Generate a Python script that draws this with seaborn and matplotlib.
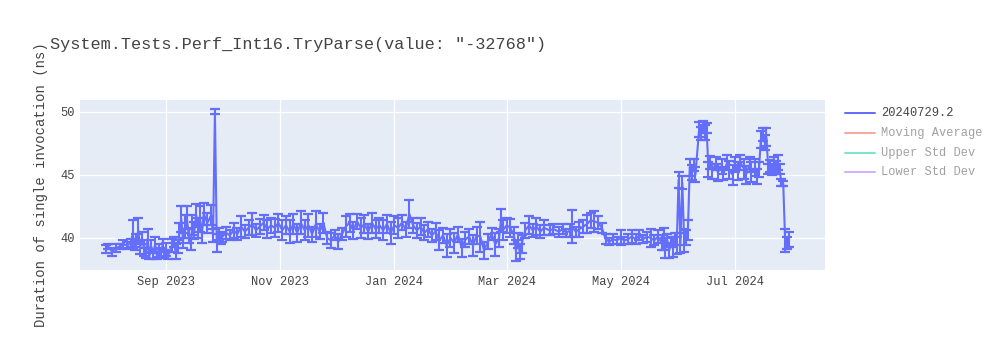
import matplotlib
matplotlib.use("Agg")
import matplotlib.pyplot as plt
import matplotlib.dates as mdates
from matplotlib.lines import Line2D
import seaborn as sns
import pandas as pd

title = 'System.Tests.Perf_Int16.TryParse(value: "-32768")'
y_label = "Duration of single invocation (ns)"
legend_labels = ["20240729.2", "Moving Average", "Upper Std Dev", "Lower Std Dev"]
y_ticks = [40, 45, 50]

dates = [
    "2023-07-31", "2023-08-01", "2023-08-03", "2023-08-05", "2023-08-07", "2023-08-09", "2023-08-11", "2023-08-13",
    "2023-08-14", "2023-08-15", "2023-08-16", "2023-08-17", "2023-08-18", "2023-08-19",
    "2023-08-20", "2023-08-21", "2023-08-22", "2023-08-23", "2023-08-24", "2023-08-25", "2023-08-26", "2023-08-27",
    "2023-08-28", "2023-08-29", "2023-08-30", "2023-08-31",
    "2023-09-01", "2023-09-02", "2023-09-04", "2023-09-05", "2023-09-06", "2023-09-07",
    "2023-09-08", "2023-09-09", "2023-09-10", "2023-09-11", "2023-09-12", "2023-09-13", "2023-09-14", "2023-09-15",
    "2023-09-16", "2023-09-17",
    "2023-09-18", "2023-09-19", "2023-09-20", "2023-09-21", "2023-09-23", "2023-09-25",
    "2023-09-26", "2023-09-27", "2023-09-28", "2023-09-29", "2023-09-30",
    "2023-10-01", "2023-10-03", "2023-10-05", "2023-10-07", "2023-10-09", "2023-10-11", "2023-10-13", "2023-10-15",
    "2023-10-17", "2023-10-19", "2023-10-21", "2023-10-23", "2023-10-25", "2023-10-27", "2023-10-29", "2023-10-31",
    "2023-11-02", "2023-11-04",
    "2023-11-06", "2023-11-08", "2023-11-10", "2023-11-12", "2023-11-14", "2023-11-16", "2023-11-18", "2023-11-20",
    "2023-11-22", "2023-11-24",
    "2023-11-26", "2023-11-28", "2023-11-30", "2023-12-02", "2023-12-04",
    "2023-12-06", "2023-12-08", "2023-12-10", "2023-12-12", "2023-12-14", "2023-12-16", "2023-12-18", "2023-12-20",
    "2023-12-22", "2023-12-24", "2023-12-26", "2023-12-28", "2023-12-30", "2024-01-01",
    "2024-01-03", "2024-01-05", "2024-01-07", "2024-01-09", "2024-01-11",
    "2024-01-13", "2024-01-15", "2024-01-17", "2024-01-19", "2024-01-21", "2024-01-23",
    "2024-01-25", "2024-01-27", "2024-01-29", "2024-01-31", "2024-02-02", "2024-02-04", "2024-02-06", "2024-02-08",
    "2024-02-10", "2024-02-12", "2024-02-14", "2024-02-16", "2024-02-18", "2024-02-20", "2024-02-22", "2024-02-24",
    "2024-02-26", "2024-02-27", "2024-02-28", "2024-03-01",
    "2024-03-03", "2024-03-05", "2024-03-06", "2024-03-07", "2024-03-08", "2024-03-09", "2024-03-11",
    "2024-03-13", "2024-03-15", "2024-03-17", "2024-03-19", "2024-03-21", "2024-03-24", "2024-03-26",
    "2024-03-29", "2024-03-31", "2024-04-02", "2024-04-04", "2024-04-05", "2024-04-07", "2024-04-09",
    "2024-04-11", "2024-04-13", "2024-04-15", "2024-04-17", "2024-04-19", "2024-04-21",
    "2024-04-23", "2024-04-25", "2024-04-27", "2024-04-29", "2024-05-01", "2024-05-03", "2024-05-05", "2024-05-07",
    "2024-05-09", "2024-05-11", "2024-05-13", "2024-05-15", "2024-05-17", "2024-05-19", "2024-05-21",
    "2024-05-23", "2024-05-24", "2024-05-25", "2024-05-26", "2024-05-27", "2024-05-28", "2024-05-29", "2024-05-30",
    "2024-05-31",
    "2024-06-01", "2024-06-02", "2024-06-03", "2024-06-04", "2024-06-05", "2024-06-06",
    "2024-06-07", "2024-06-08", "2024-06-09", "2024-06-10",
    "2024-06-12", "2024-06-13", "2024-06-14", "2024-06-15", "2024-06-16",
    "2024-06-17", "2024-06-18", "2024-06-19", "2024-06-21", "2024-06-22", "2024-06-24", "2024-06-25", "2024-06-27",
    "2024-06-28", "2024-06-30", "2024-07-01", "2024-07-03", "2024-07-04", "2024-07-06", "2024-07-07", "2024-07-09",
    "2024-07-10", "2024-07-12", "2024-07-13", "2024-07-14",
    "2024-07-15", "2024-07-16", "2024-07-17", "2024-07-18",
    "2024-07-19", "2024-07-20", "2024-07-21", "2024-07-22", "2024-07-23", "2024-07-24", "2024-07-25",
    "2024-07-26", "2024-07-27",
    "2024-07-28", "2024-07-29", "2024-07-30",
]

values = [
    39.1, 39.3, 38.9, 39.2, 39.3, 39.5, 39.4, 39.6,
    40.3, 39.4, 39.8, 40.6, 39.2, 40.0,
    39.2, 38.8, 39.9, 38.6, 39.3, 38.7, 39.5, 38.6,
    39.0, 38.8, 39.4, 38.7,
    39.1, 38.6, 39.4, 39.7, 38.9, 39.3,
    40.4, 41.5, 39.8, 40.9, 41.6, 40.2, 39.5, 41.0,
    40.6, 41.8,
    40.8, 41.5, 40.3, 41.9, 41.2, 41.8,
    40.2, 50.0, 39.6, 40.3, 39.9,
    40.1, 40.4, 40.2, 40.6, 40.3, 40.9, 40.5, 40.8,
    41.1, 40.6, 40.9, 41.2, 40.7, 41.0, 40.8, 41.2,
    40.6, 41.0,
    40.5, 41.1, 40.4, 41.2, 40.6, 41.0, 40.3, 41.1,
    40.5, 41.2,
    40.0, 39.8, 40.2, 39.7, 40.3,
    40.9, 41.2, 40.6, 41.3, 40.8, 41.1, 40.5, 41.2,
    40.7, 41.0, 40.6, 41.1, 40.4, 41.0,
    40.8, 41.2, 40.7, 41.9, 41.0,
    40.6, 40.9, 40.4, 40.7, 40.2, 40.5,
    39.8, 40.2, 39.4, 40.0, 39.6, 40.3, 39.2, 39.9,
    40.1, 39.4, 40.2, 40.1, 39.0, 39.7, 40.3, 39.5,
    40.0, 41.4, 40.6, 41.0,
    40.8, 40.2, 39.0, 39.8, 38.9, 39.5, 40.6,
    41.0, 40.6, 40.9, 40.5, 40.8, 40.6, 40.7,
    40.5, 40.7, 40.4, 40.6, 40.9, 40.5, 40.7,
    40.9, 41.1, 41.4, 41.3, 41.2, 40.8,
    39.9, 39.7, 39.9, 39.8, 40.0, 39.8, 39.9, 40.1,
    39.9, 40.2, 39.9, 40.1, 40.0, 39.8, 40.1,
    39.6, 39.9, 39.2, 39.8, 39.0, 39.7, 39.3, 39.9,
    39.4,
    44.6, 39.6, 44.4, 39.8, 40.0, 40.6,
    45.6, 45.2, 45.8, 45.0,
    48.6, 48.3, 48.8, 48.4, 48.7,
    45.4, 46.0, 45.3, 45.9, 45.2, 45.7, 45.1, 46.0,
    45.4, 45.0, 45.8, 45.3, 46.0, 45.5, 45.0, 45.8,
    45.2, 45.6, 44.9, 45.4,
    47.8, 48.2, 47.6, 48.0,
    45.5, 45.7, 45.4, 45.8, 45.6, 46.0, 45.5,
    44.4, 44.3,
    39.8, 39.6, 39.9,
]

errors = [
    0.3, 0.2, 0.3, 0.3, 0.2, 0.3, 0.3, 0.3,
    1.1, 0.4, 0.5, 1.0, 0.5, 0.5,
    0.6, 0.4, 0.8, 0.3, 0.5, 0.4, 0.6, 0.3,
    0.5, 0.4, 0.5, 0.3,
    0.5, 0.3, 0.5, 0.4, 0.6, 0.5,
    0.8, 1.0, 0.6, 0.9, 0.9, 0.6, 0.5, 0.8,
    0.7, 0.9,
    0.8, 1.0, 0.7, 0.9, 0.8, 0.8,
    0.5, 0.2, 0.7, 0.5, 0.4,
    0.4, 0.5, 0.4, 0.6, 0.5, 0.8, 0.5, 0.6,
    0.9, 0.5, 0.6, 0.6, 0.7, 0.6, 0.7, 0.7,
    0.8, 0.7,
    0.9, 0.8, 0.7, 0.9, 0.8, 0.9, 0.6, 1.0,
    0.6, 0.8,
    0.5, 0.6, 0.4, 0.6, 0.5,
    0.8, 0.7, 0.7, 0.6, 0.8, 0.7, 0.6, 0.8,
    0.7, 0.6, 0.8, 0.7, 0.9, 0.7,
    0.8, 0.6, 0.6, 1.1, 0.6,
    0.6, 0.7, 0.6, 0.6, 0.5, 0.7,
    0.8, 0.6, 0.9, 0.7, 0.8, 0.6, 0.7, 0.6,
    0.6, 0.8, 0.7, 1.2, 0.7, 0.6, 0.5, 0.9,
    0.7, 0.9, 0.8, 0.6,
    0.7, 0.7, 0.8, 0.6, 0.6, 0.7, 0.6,
    0.7, 0.5, 0.7, 0.5, 0.6, 0.4, 0.4,
    0.4, 0.4, 0.3, 0.5, 1.3, 0.4, 0.6,
    0.5, 0.7, 0.6, 0.8, 0.5, 0.4,
    0.4, 0.3, 0.4, 0.3, 0.6, 0.3, 0.4, 0.5,
    0.4, 0.4, 0.3, 0.4, 0.7, 0.4, 0.5,
    0.6, 0.9, 0.8, 0.5, 0.6, 0.4, 0.8, 0.5,
    0.7,
    0.6, 0.8, 0.5, 0.9, 0.6, 0.8,
    0.7, 0.6, 0.5, 0.6,
    0.6, 0.5, 0.5, 0.6, 0.4,
    0.6, 0.5, 0.6, 0.5, 0.7, 0.6, 0.5, 0.6,
    0.7, 0.8, 0.6, 0.7, 0.6, 0.8, 0.7, 0.6,
    0.8, 0.7, 0.6, 0.6,
    0.7, 0.5, 0.6, 0.7,
    0.4, 0.5, 0.4, 0.6, 0.5, 0.6, 0.4,
    0.3, 0.2,
    0.9, 0.5, 0.6,
]

df = pd.DataFrame({"date": pd.to_datetime(dates), "value": values, "err": errors})

sns.set_style("darkgrid", {"axes.facecolor": "#E5ECF6", "grid.color": "white",
                           "axes.edgecolor": "#E5ECF6"})
plt.rcParams["font.family"] = ["Liberation Mono", "DejaVu Sans Mono"]

BLUE = "#636EFA"
TXT = "#444444"

fig = plt.figure(figsize=(10, 3.5), dpi=100)
ax = fig.add_axes([0.08, 80 / 350, 0.745, 170 / 350])

ax.errorbar(df["date"], df["value"], yerr=df["err"], fmt="none", ecolor=BLUE,
            elinewidth=1.5, capsize=3.8, capthick=1.6, zorder=3)
sns.lineplot(data=df, x="date", y="value", ax=ax, color=BLUE, linewidth=1.5,
             zorder=4, legend=False)

ax.set_xlim(pd.Timestamp("2023-07-16 20:00"), pd.Timestamp("2024-08-18 08:00"))
ax.set_ylim(37.45, 50.95)
ax.set_yticks(y_ticks)
ax.xaxis.set_major_locator(mdates.MonthLocator(bymonth=[1, 3, 5, 7, 9, 11]))
ax.xaxis.set_major_formatter(mdates.DateFormatter("%b %Y"))
ax.grid(True, color="white", linewidth=0.9)
ax.tick_params(axis="both", length=0, labelsize=8.64, colors=TXT, pad=4)
for s in ax.spines.values():
    s.set_visible(False)
ax.set_xlabel("")
ax.set_ylabel(y_label, fontsize=10, color=TXT)
ax.yaxis.set_label_coords(-0.043, 0.5)

fig.text(0.05, 1 - 45 / 350, title, fontsize=12.2, color=TXT, ha="left", va="center")

leg_colors = ["#636EFA", "#EF553B", "#00CC96", "#AB63FA"]
leg_alpha = [1.0, 0.5, 0.5, 0.5]
leg_y = [113, 133, 153, 172]
for lab, col, a, yy in zip(legend_labels, leg_colors, leg_alpha, leg_y):
    yf = 1 - yy / 350
    fig.add_artist(Line2D([0.845, 0.875], [yf, yf], color=col, alpha=a, linewidth=1.44,
                          transform=fig.transFigure))
    fig.text(0.881, yf, lab, fontsize=8.64, color=TXT, alpha=a, ha="left", va="center")

fig.savefig("out.png", dpi=100)
